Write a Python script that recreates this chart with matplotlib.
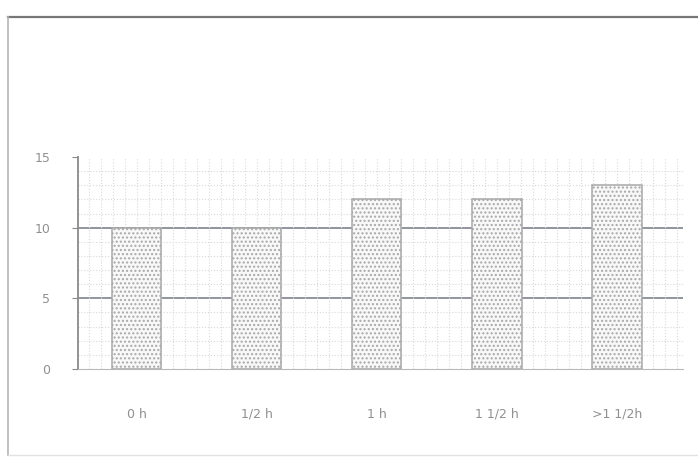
import numpy as np
import matplotlib.pyplot as plt
from matplotlib.lines import Line2D
from matplotlib.ticker import MultipleLocator

# durations and counts
categories = ["0 h", "1/2 h", "1 h", "1 1/2 h", ">1 1/2h"]
counts = [10, 10, 12, 12, 13]
y_ticks = [0, 5, 10, 15]

fig = plt.figure(figsize=(6.98, 4.61), dpi=100)
ax = fig.add_axes([0.1117, 0.1996, 0.8668, 0.4598])

x = np.arange(len(categories))

# fine dotted background grid
ax.xaxis.set_minor_locator(MultipleLocator(0.1))
ax.yaxis.set_minor_locator(MultipleLocator(1))
ax.grid(which='minor', color='#d9d9d9', linestyle=':', linewidth=0.8, zorder=0)
ax.grid(which='major', axis='x', color='#d9d9d9', linestyle=':', linewidth=0.8, zorder=0)

# darker horizontal lines at 5 and 10
for yv in y_ticks[1:3]:
    ax.axhline(yv, color='#888c96', linewidth=1.3, zorder=1)

plt.rcParams['hatch.color'] = '#d8d8d8'
ax.bar(x, counts, width=0.41, color='#f8f8f8', edgecolor='#a8a8a8',
       linewidth=1.1, hatch='....', zorder=2)

ax.set_xlim(-0.49, 4.55)
ax.set_ylim(0, 15)
ax.set_yticks(y_ticks)
ax.set_yticklabels([str(v) for v in y_ticks])
ax.set_xticks(x)
ax.set_xticklabels(categories)

for s in ['top', 'right']:
    ax.spines[s].set_visible(False)
ax.spines['left'].set_color('#8a8a8a')
ax.spines['bottom'].set_color('#b8b8b8')
ax.spines['left'].set_linewidth(1.3)
ax.tick_params(axis='y', which='major', length=4, color='#8a8a8a',
               labelcolor='#909090', labelsize=9, pad=16)
ax.tick_params(axis='y', which='minor', length=0)
ax.tick_params(axis='x', which='both', length=0, labelcolor='#909090',
               labelsize=9, pad=28)

# scanned page frame
fl = 8 / 698
ft = 1 - 17 / 461
fb = 1 - 455 / 461
fig.lines.append(Line2D([fl, 1.0], [ft, ft], transform=fig.transFigure,
                        color='#777777', linewidth=1.6))
fig.lines.append(Line2D([fl, fl], [fb, ft], transform=fig.transFigure,
                        color='#b5b5b5', linewidth=1.2))
fig.lines.append(Line2D([fl, 1.0], [fb, fb], transform=fig.transFigure,
                        color='#e2e2e2', linewidth=1.0))

fig.savefig('out.png', dpi=100)
